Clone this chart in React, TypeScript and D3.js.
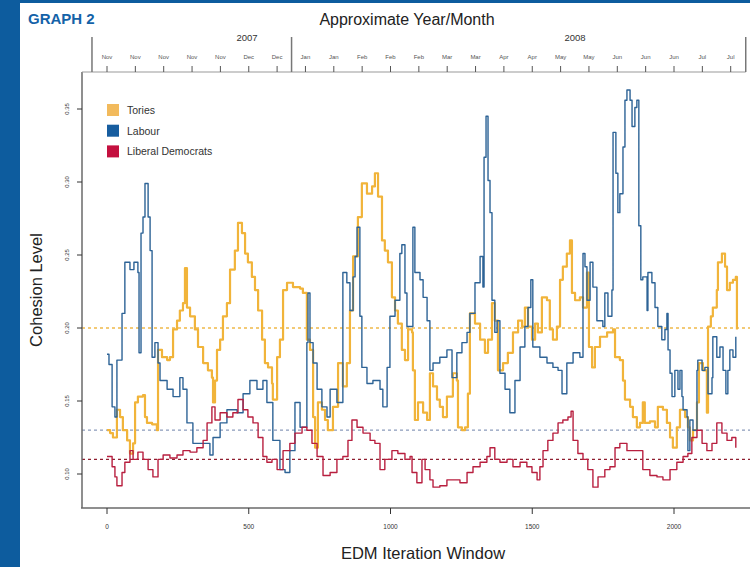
import React, { useEffect, useRef } from 'react';
import * as d3 from 'd3';

// values: [iteration window, cohesion level]
const tories: [number, number][] = [
  [0, 0.130], [11, 0.128], [21, 0.125], [35, 0.144], [46, 0.139], [56, 0.130], [71, 0.123], [81, 0.114],
  [92, 0.121], [99, 0.149], [109, 0.153], [127, 0.154], [134, 0.139], [141, 0.135], [159, 0.134], [176, 0.130],
  [180, 0.185], [194, 0.180], [212, 0.178], [222, 0.180], [233, 0.199], [247, 0.205], [257, 0.212], [268, 0.217],
  [275, 0.241], [282, 0.214], [293, 0.208], [310, 0.199], [321, 0.187], [339, 0.176], [356, 0.171], [370, 0.166],
  [374, 0.149], [381, 0.164], [388, 0.185], [399, 0.192], [409, 0.208], [423, 0.217], [434, 0.240], [451, 0.253],
  [462, 0.272], [476, 0.265], [487, 0.251], [497, 0.245], [511, 0.235], [522, 0.226], [533, 0.212], [547, 0.192],
  [557, 0.176], [568, 0.173], [582, 0.162], [585, 0.151], [600, 0.180], [610, 0.192], [621, 0.226], [635, 0.231],
  [656, 0.228], [681, 0.227], [691, 0.224], [705, 0.192], [716, 0.185], [727, 0.139], [734, 0.118], [744, 0.149],
  [758, 0.144], [769, 0.137], [779, 0.130], [797, 0.146], [815, 0.176], [832, 0.160], [846, 0.176], [857, 0.212],
  [868, 0.249], [885, 0.276], [899, 0.299], [917, 0.292], [935, 0.297], [945, 0.306], [956, 0.290], [970, 0.260],
  [980, 0.253], [991, 0.245], [1005, 0.221], [1016, 0.212], [1026, 0.203], [1040, 0.185], [1051, 0.178], [1062, 0.199],
  [1076, 0.197], [1079, 0.171], [1086, 0.137], [1097, 0.149], [1115, 0.142], [1129, 0.137], [1139, 0.169], [1150, 0.160],
  [1164, 0.151], [1174, 0.146], [1185, 0.139], [1199, 0.153], [1220, 0.169], [1234, 0.164], [1238, 0.132], [1252, 0.130],
  [1263, 0.132], [1273, 0.155], [1280, 0.210], [1298, 0.203], [1316, 0.192], [1333, 0.183], [1344, 0.192], [1358, 0.217],
  [1368, 0.205], [1379, 0.171], [1397, 0.176], [1414, 0.183], [1432, 0.197], [1450, 0.205], [1464, 0.201], [1474, 0.214],
  [1485, 0.201], [1499, 0.192], [1510, 0.203], [1520, 0.197], [1534, 0.221], [1552, 0.219], [1562, 0.199], [1573, 0.192],
  [1587, 0.201], [1598, 0.233], [1608, 0.242], [1622, 0.251], [1633, 0.260], [1640, 0.224], [1651, 0.219], [1668, 0.221],
  [1679, 0.214], [1693, 0.238], [1700, 0.187], [1711, 0.173], [1721, 0.187], [1739, 0.194], [1764, 0.197], [1785, 0.199],
  [1792, 0.180], [1809, 0.178], [1820, 0.164], [1827, 0.151], [1845, 0.146], [1855, 0.139], [1869, 0.132], [1880, 0.135],
  [1890, 0.149], [1897, 0.135], [1915, 0.136], [1933, 0.132], [1943, 0.146], [1961, 0.144], [1975, 0.135], [1986, 0.125],
  [1996, 0.118], [2010, 0.132], [2021, 0.144], [2039, 0.139], [2049, 0.132], [2056, 0.123], [2067, 0.130], [2081, 0.149],
  [2088, 0.176], [2102, 0.171], [2116, 0.142], [2120, 0.201], [2130, 0.208], [2137, 0.214], [2151, 0.226], [2155, 0.245],
  [2169, 0.251], [2180, 0.242], [2187, 0.226], [2197, 0.231], [2208, 0.233], [2218, 0.235], [2222, 0.199],
];

const labour: [number, number][] = [
  [0, 0.182], [7, 0.175], [18, 0.146], [28, 0.139], [35, 0.178], [53, 0.210], [63, 0.245], [81, 0.240],
  [95, 0.245], [109, 0.238], [113, 0.183], [120, 0.265], [127, 0.276], [134, 0.299], [145, 0.276], [152, 0.253],
  [159, 0.180], [169, 0.190], [180, 0.176], [187, 0.164], [212, 0.158], [233, 0.153], [257, 0.166], [268, 0.158],
  [282, 0.135], [303, 0.121], [328, 0.121], [363, 0.113], [374, 0.125], [399, 0.135], [423, 0.144], [459, 0.142],
  [480, 0.155], [504, 0.164], [529, 0.158], [550, 0.164], [564, 0.149], [585, 0.123], [610, 0.103], [628, 0.101],
  [645, 0.116], [663, 0.149], [681, 0.132], [705, 0.190], [709, 0.224], [716, 0.190], [727, 0.176], [741, 0.158],
  [758, 0.146], [776, 0.139], [787, 0.158], [811, 0.149], [832, 0.238], [846, 0.231], [857, 0.212], [868, 0.235],
  [875, 0.249], [882, 0.269], [892, 0.208], [899, 0.173], [917, 0.162], [938, 0.164], [963, 0.158], [973, 0.146],
  [988, 0.173], [998, 0.208], [1016, 0.219], [1033, 0.251], [1040, 0.257], [1051, 0.224], [1058, 0.201], [1079, 0.269],
  [1086, 0.238], [1104, 0.233], [1115, 0.221], [1129, 0.205], [1139, 0.171], [1150, 0.176], [1174, 0.180], [1199, 0.185],
  [1217, 0.166], [1234, 0.183], [1252, 0.190], [1270, 0.197], [1280, 0.210], [1298, 0.231], [1316, 0.249], [1326, 0.228],
  [1330, 0.317], [1337, 0.345], [1344, 0.301], [1351, 0.279], [1358, 0.219], [1368, 0.197], [1376, 0.205], [1386, 0.169],
  [1404, 0.158], [1421, 0.142], [1439, 0.164], [1457, 0.187], [1474, 0.201], [1485, 0.214], [1495, 0.233], [1502, 0.187],
  [1527, 0.180], [1552, 0.176], [1573, 0.173], [1591, 0.171], [1605, 0.155], [1622, 0.176], [1644, 0.183], [1668, 0.180],
  [1679, 0.251], [1686, 0.242], [1693, 0.219], [1704, 0.245], [1714, 0.228], [1728, 0.205], [1749, 0.201], [1756, 0.224],
  [1767, 0.208], [1781, 0.226], [1785, 0.334], [1795, 0.306], [1802, 0.279], [1809, 0.292], [1820, 0.324], [1827, 0.356],
  [1834, 0.363], [1845, 0.356], [1852, 0.338], [1862, 0.351], [1869, 0.356], [1876, 0.270], [1883, 0.233], [1890, 0.235],
  [1905, 0.212], [1908, 0.238], [1922, 0.231], [1933, 0.214], [1943, 0.201], [1957, 0.192], [1968, 0.199], [1975, 0.210],
  [1979, 0.185], [1986, 0.169], [1993, 0.153], [2003, 0.171], [2014, 0.158], [2021, 0.171], [2028, 0.153], [2032, 0.144],
  [2046, 0.139], [2049, 0.116], [2056, 0.137], [2067, 0.130], [2081, 0.171], [2084, 0.178], [2099, 0.171], [2109, 0.173],
  [2120, 0.155], [2134, 0.166], [2137, 0.194], [2151, 0.180], [2162, 0.187], [2173, 0.171], [2183, 0.155], [2190, 0.171],
  [2197, 0.185], [2208, 0.180], [2218, 0.194],
];

const libDems: [number, number][] = [
  [0, 0.112], [18, 0.105], [28, 0.098], [35, 0.092], [53, 0.101], [63, 0.108], [81, 0.116], [92, 0.110],
  [109, 0.115], [127, 0.110], [145, 0.103], [162, 0.098], [180, 0.110], [198, 0.113], [222, 0.111], [247, 0.113],
  [268, 0.116], [293, 0.115], [317, 0.118], [339, 0.123], [353, 0.135], [370, 0.146], [381, 0.137], [399, 0.142],
  [423, 0.139], [444, 0.142], [462, 0.151], [480, 0.144], [497, 0.139], [515, 0.135], [533, 0.125], [550, 0.112],
  [564, 0.108], [582, 0.110], [600, 0.103], [621, 0.116], [645, 0.121], [663, 0.128], [688, 0.132], [705, 0.130],
  [723, 0.121], [741, 0.112], [762, 0.099], [787, 0.101], [811, 0.110], [832, 0.112], [850, 0.123], [864, 0.137],
  [882, 0.132], [903, 0.128], [928, 0.123], [945, 0.121], [963, 0.103], [980, 0.110], [1005, 0.116], [1026, 0.114],
  [1051, 0.110], [1069, 0.112], [1076, 0.101], [1093, 0.094], [1111, 0.110], [1122, 0.103], [1139, 0.096], [1150, 0.091],
  [1174, 0.092], [1199, 0.096], [1220, 0.096], [1245, 0.094], [1270, 0.101], [1291, 0.105], [1316, 0.108], [1340, 0.112],
  [1351, 0.118], [1368, 0.110], [1386, 0.108], [1411, 0.110], [1432, 0.105], [1457, 0.108], [1481, 0.105], [1499, 0.101],
  [1517, 0.096], [1527, 0.105], [1538, 0.116], [1555, 0.123], [1573, 0.128], [1591, 0.135], [1608, 0.137], [1626, 0.139],
  [1637, 0.143], [1644, 0.123], [1661, 0.114], [1679, 0.110], [1696, 0.103], [1714, 0.091], [1732, 0.098], [1756, 0.103],
  [1774, 0.105], [1792, 0.118], [1809, 0.121], [1834, 0.116], [1855, 0.116], [1880, 0.116], [1890, 0.103], [1915, 0.099],
  [1940, 0.098], [1961, 0.096], [1986, 0.103], [2010, 0.108], [2032, 0.112], [2049, 0.114], [2063, 0.125], [2081, 0.130],
  [2099, 0.121], [2116, 0.116], [2134, 0.121], [2151, 0.135], [2169, 0.128], [2187, 0.123], [2204, 0.125], [2218, 0.118],
];

// reference (mean) levels drawn as dashed lines
const meanLevels = [0.2, 0.13, 0.11];

const seriesNames = ['Tories', 'Labour', 'Liberal Democrats'];
const yTicks = [0.1, 0.15, 0.2, 0.25, 0.3, 0.35];
const xTicks = [0, 500, 1000, 1500, 2000];

// top axis: one tick every 100 windows
const monthLabels = ['Nov', 'Nov', 'Nov', 'Nov', 'Nov', 'Dec', 'Dec', 'Jan', 'Jan', 'Feb', 'Feb', 'Feb',
  'Mar', 'Mar', 'Apr', 'Apr', 'May', 'May', 'Jun', 'Jun', 'Jun', 'Jul', 'Jul'];
const yearBreaks = [-53, 651, 2253];
const yearLabels = [{ label: '2007', at: 494 }, { label: '2008', at: 1651 }];

export default function App() {
  const ref = useRef<SVGSVGElement>(null);

  useEffect(() => {
    const w = 750;
    const h = 567;
    const svg = d3.select(ref.current);
    svg.selectAll('*').remove();

    const left = 82, top = 72, bottom = 508, right = 750;
    const x = d3.scaleLinear().domain([0, 2000]).range([107, 674]);
    const y = d3.scaleLinear().domain([0.1, 0.35]).range([474, 109]);

    const colors = ['#f1b43a', '#2d6396', '#b81f3f'];
    const legendColors = ['#f2ba5c', '#175d9f', '#c4103f'];
    const meanColors = ['#f0b94a', '#8b9bbb', '#8f1f30'];
    const font = 'Liberation Sans, Arial, Helvetica, sans-serif';

    svg.append('rect').attr('width', w).attr('height', h).attr('fill', '#ffffff');
    // blue page frame
    svg.append('rect').attr('x', 0).attr('y', 0).attr('width', 20).attr('height', h).attr('fill', '#0d5c9e');
    svg.append('rect').attr('x', 0).attr('y', 0).attr('width', w).attr('height', 3).attr('fill', '#0d5c9e');

    svg.append('text').attr('x', 28).attr('y', 24).text('GRAPH 2')
      .attr('font-family', font).attr('font-weight', 'bold').attr('font-size', 15).attr('fill', '#1462a8');

    svg.append('text').attr('x', 407).attr('y', 25).attr('text-anchor', 'middle').text('Approximate Year/Month')
      .attr('font-family', font).attr('font-size', 16).attr('fill', '#222');

    // dashed mean lines
    meanLevels.forEach((m, i) => {
      svg.append('line').attr('x1', left).attr('x2', right).attr('y1', y(m)).attr('y2', y(m))
        .attr('stroke', meanColors[i]).attr('stroke-width', 1.3).attr('stroke-dasharray', '3,3');
    });

    const line = d3.line<[number, number]>()
      .x(d => x(d[0]))
      .y(d => y(d[1]))
      .curve(d3.curveStepAfter);

    [tories, labour, libDems].forEach((data, i) => {
      svg.append('path').datum(data).attr('d', line)
        .attr('fill', 'none').attr('stroke', colors[i])
        .attr('stroke-width', i === 0 ? 2.2 : 1.4)
        .attr('stroke-linejoin', 'round');
    });

    const axisColor = '#6a6a6a';
    // frame lines
    svg.append('line').attr('x1', left).attr('x2', left).attr('y1', top).attr('y2', bottom)
      .attr('stroke', axisColor).attr('stroke-width', 1.5);
    svg.append('line').attr('x1', left - 1).attr('x2', right).attr('y1', bottom).attr('y2', bottom)
      .attr('stroke', axisColor).attr('stroke-width', 1.5);
    svg.append('line').attr('x1', left).attr('x2', x(yearBreaks[2])).attr('y1', top).attr('y2', top)
      .attr('stroke', '#999').attr('stroke-width', 1.2);

    // y axis
    const yAxis = svg.append('g');
    yTicks.forEach(t => {
      yAxis.append('line').attr('x1', left - 5).attr('x2', left).attr('y1', y(t)).attr('y2', y(t))
        .attr('stroke', '#333').attr('stroke-width', 1);
      yAxis.append('text')
        .attr('transform', `translate(${left - 13},${y(t)}) rotate(-90)`)
        .attr('text-anchor', 'middle').attr('font-family', font).attr('font-size', 6)
        .attr('fill', '#333').text(d3.format('.2f')(t));
    });

    // x axis
    const xAxis = svg.append('g');
    xTicks.forEach(t => {
      xAxis.append('line').attr('x1', x(t)).attr('x2', x(t)).attr('y1', bottom).attr('y2', bottom + 6)
        .attr('stroke', '#333').attr('stroke-width', 1);
      xAxis.append('text').attr('x', x(t)).attr('y', bottom + 21).attr('text-anchor', 'middle')
        .attr('font-family', font).attr('font-size', 6.5).attr('fill', '#333').text(t);
    });

    // top month axis
    const topAxis = svg.append('g');
    monthLabels.forEach((m, i) => {
      const px = x(i * 100);
      topAxis.append('line').attr('x1', px).attr('x2', px).attr('y1', top - 6).attr('y2', top)
        .attr('stroke', '#555').attr('stroke-width', 1);
      topAxis.append('text').attr('x', px).attr('y', 59).attr('text-anchor', 'middle')
        .attr('font-family', font).attr('font-size', 6).attr('fill', '#555').text(m);
    });
    yearBreaks.forEach(b => {
      topAxis.append('line').attr('x1', x(b)).attr('x2', x(b)).attr('y1', 37).attr('y2', top)
        .attr('stroke', '#777').attr('stroke-width', 1.5);
    });
    yearLabels.forEach(yl => {
      topAxis.append('text').attr('x', x(yl.at)).attr('y', 41).attr('text-anchor', 'middle')
        .attr('font-family', font).attr('font-size', 9.5).attr('fill', '#333').text(yl.label);
    });

    // axis titles
    svg.append('text').attr('transform', 'translate(42,290) rotate(-90)').attr('text-anchor', 'middle')
      .attr('font-family', font).attr('font-size', 16.5).attr('fill', '#222').text('Cohesion Level');
    svg.append('text').attr('x', 423).attr('y', 559).attr('text-anchor', 'middle')
      .attr('font-family', font).attr('font-size', 16.5).attr('fill', '#222').text('EDM Iteration Window');

    // legend
    const legend = svg.append('g');
    seriesNames.forEach((name, i) => {
      legend.append('rect').attr('x', 107).attr('y', 104 + i * 20.7).attr('width', 12).attr('height', 12)
        .attr('fill', legendColors[i]);
      legend.append('text').attr('x', 127).attr('y', 114 + i * 20.7)
        .attr('font-family', font).attr('font-size', 10.5).attr('fill', '#333').text(name);
    });
  }, []);

  return (
    <svg ref={ref} width={750} height={567}
      style={{ position: 'absolute', left: 0, top: 0, display: 'block' }} />
  );
}
